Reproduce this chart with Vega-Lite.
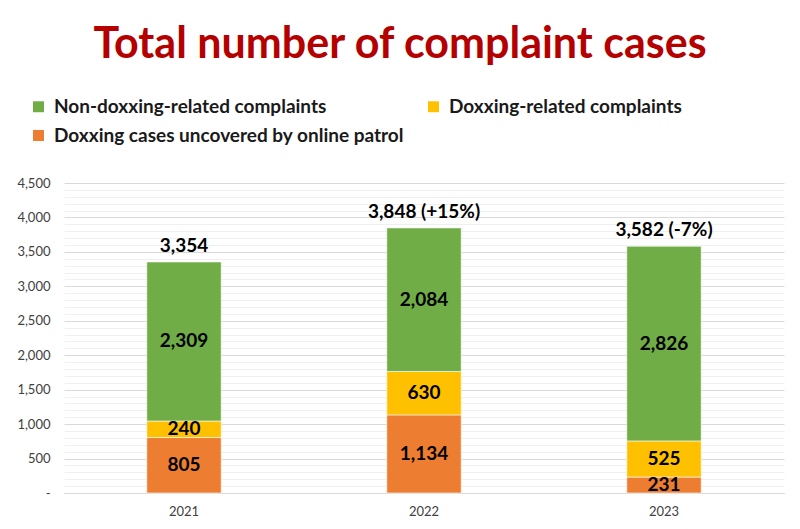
{
  "$schema": "https://vega.github.io/schema/vega-lite/v6.json",
  "width": 720,
  "height": 310,
  "autosize": {"type": "none"},
  "padding": {"left": 64, "top": 183, "right": 16, "bottom": 36},
  "background": "white",
  "config": {
    "font": "Lato",
    "view": {"stroke": null}
  },
  "title": {
    "text": "Total number of complaint cases",
    "font": "Lato",
    "fontSize": 43,
    "fontWeight": "bold",
    "color": "#B50000",
    "anchor": "middle",
    "dx": -24,
    "offset": -4,
    "baseline": "alphabetic"
  },
  "datasets": {
    "segments": [
      {"year": "2021", "category": "Doxxing cases uncovered by online patrol", "value": 805, "rank": 1},
      {"year": "2021", "category": "Doxxing-related complaints", "value": 240, "rank": 2},
      {"year": "2021", "category": "Non-doxxing-related complaints", "value": 2309, "rank": 3},
      {"year": "2022", "category": "Doxxing cases uncovered by online patrol", "value": 1134, "rank": 1},
      {"year": "2022", "category": "Doxxing-related complaints", "value": 630, "rank": 2},
      {"year": "2022", "category": "Non-doxxing-related complaints", "value": 2084, "rank": 3},
      {"year": "2023", "category": "Doxxing cases uncovered by online patrol", "value": 231, "rank": 1},
      {"year": "2023", "category": "Doxxing-related complaints", "value": 525, "rank": 2},
      {"year": "2023", "category": "Non-doxxing-related complaints", "value": 2826, "rank": 3}
    ],
    "totals": [
      {"year": "2021", "total": 3354, "label": "3,354"},
      {"year": "2022", "total": 3848, "label": "3,848 (+15%)"},
      {"year": "2023", "total": 3582, "label": "3,582 (-7%)"}
    ]
  },
  "encoding": {
    "x": {
      "field": "year",
      "type": "nominal",
      "scale": {"paddingInner": 0.69, "paddingOuter": 0.345},
      "axis": {
        "title": null,
        "labelAngle": 0,
        "labelFontSize": 13,
        "labelColor": "#404040",
        "labelPadding": 12,
        "ticks": false,
        "domainColor": "#d9d9d9",
        "grid": false
      }
    }
  },
  "layer": [
    {
      "data": {"name": "segments"},
      "mark": {"type": "bar", "stroke": "white", "strokeWidth": 0.6},
      "encoding": {
        "y": {
          "field": "value",
          "type": "quantitative",
          "stack": "zero",
          "scale": {"domain": [0, 4500], "nice": false},
          "axis": {
            "title": null,
            "values": [0,100,200,300,400,500,600,700,800,900,1000,1100,1200,1300,1400,1500,1600,1700,1800,1900,2000,2100,2200,2300,2400,2500,2600,2700,2800,2900,3000,3100,3200,3300,3400,3500,3600,3700,3800,3900,4000,4100,4200,4300,4400,4500],
            "tickCount": 100,
            "labelExpr": "datum.value == 0 ? '-' : (datum.value % 500 == 0 ? format(datum.value, ',') : '')",
            "labelOverlap": false,
            "labelFlush": false,
            "labelBound": false,
            "labelFontSize": 13,
            "labelColor": "#404040",
            "labelPadding": 14,
            "ticks": false,
            "domain": false,
            "gridColor": {"condition": {"test": "datum.value % 500 == 0", "value": "#d9d9d9"}, "value": "#f0f0f0"},
            "gridWidth": 1
          }
        },
        "color": {
          "field": "category",
          "type": "nominal",
          "scale": {
            "domain": ["Non-doxxing-related complaints", "Doxxing cases uncovered by online patrol", "Doxxing-related complaints"],
            "range": ["#70AD47", "#ED7D31", "#FFC000"]
          },
          "legend": {
            "title": null,
            "orient": "none",
            "legendX": -35,
            "legendY": -86,
            "columns": 2,
            "columnPadding": 20,
            "rowPadding": 9,
            "symbolType": "square",
            "symbolSize": 120,
            "symbolStrokeWidth": 0,
            "labelFontSize": 19,
            "labelFont": "Lato",
            "labelFontWeight": "bold",
            "labelColor": "#1a1a1a",
            "labelLimit": 500,
            "labelOffset": 6
          }
        },
        "order": {"field": "rank", "type": "quantitative"}
      }
    },
    {
      "data": {"name": "segments"},
      "mark": {"type": "text", "fontSize": 19, "fontWeight": "bold", "color": "black", "baseline": "middle"},
      "encoding": {
        "y": {"field": "value", "type": "quantitative", "stack": "zero", "bandPosition": 0.5},
        "order": {"field": "rank", "type": "quantitative"},
        "text": {"field": "value", "type": "quantitative", "format": ","}
      }
    },
    {
      "data": {"name": "totals"},
      "mark": {"type": "text", "fontSize": 19, "fontWeight": "bold", "color": "black", "baseline": "alphabetic", "dy": -10},
      "encoding": {
        "y": {"field": "total", "type": "quantitative"},
        "text": {"field": "label"}
      }
    }
  ]
}
